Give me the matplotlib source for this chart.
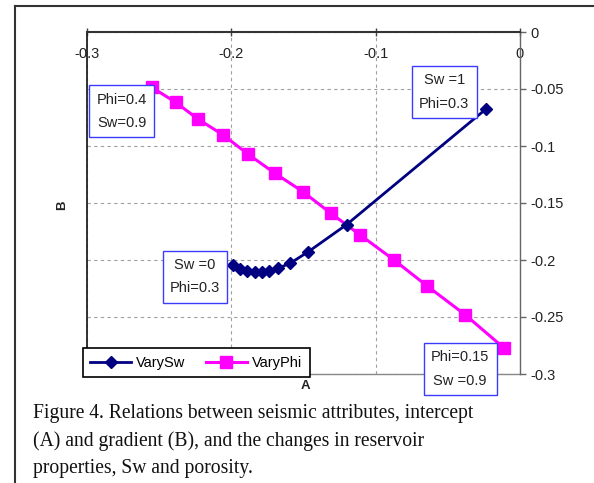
import matplotlib
matplotlib.use("Agg")
import matplotlib.pyplot as plt
from matplotlib.lines import Line2D

# ---- data ----
sw_A = [-0.1985, -0.1938, -0.1892, -0.1834, -0.1788, -0.1735, -0.1677, -0.1592, -0.1465, -0.1200, -0.0235]
sw_B = [-0.2044, -0.2079, -0.2096, -0.2105, -0.2105, -0.2096, -0.2073, -0.2029, -0.1927, -0.1689, -0.0675]

phi_A = [-0.2550, -0.2384, -0.2227, -0.2054, -0.1885, -0.1696, -0.1504, -0.1310, -0.1107, -0.0872, -0.0641, -0.0380, -0.0108]
phi_B = [-0.0485, -0.0617, -0.0766, -0.0904, -0.1070, -0.1240, -0.1400, -0.1590, -0.1780, -0.2000, -0.2230, -0.2480, -0.2775]

x_ticks = [-0.3, -0.2, -0.1, 0]
x_tick_labels = ["-0.3", "-0.2", "-0.1", "0"]
y_ticks = [0, -0.05, -0.1, -0.15, -0.2, -0.25, -0.3]
y_tick_labels = ["0", "-0.05", "-0.1", "-0.15", "-0.2", "-0.25", "-0.3"]

notes = ["Phi=0.4\nSw=0.9", "Sw =1\nPhi=0.3", "Sw =0\nPhi=0.3", "Phi=0.15\nSw =0.9"]
note_A = [-0.2758, -0.0524, -0.2250, -0.0415]
note_B = [-0.0697, -0.0526, -0.2146, -0.2956]

caption = ("Figure 4. Relations between seismic attributes, intercept\n"
           "(A) and gradient (B), and the changes in reservoir\n"
           "properties, Sw and porosity.")

plt.rcParams['font.family'] = ['Liberation Sans', 'DejaVu Sans']

fig = plt.figure(figsize=(5.94, 4.83), dpi=100)
ax = fig.add_axes([86.7/594, 1-374/483, (520-86.7)/594, 342/483])

ax.set_xlim(-0.3, 0)
ax.set_ylim(-0.3, 0)

ax.plot(phi_A, phi_B, color='#ff00ff', lw=2.2, marker='s', ms=8.5,
        markeredgecolor='#ff00ff', label='VaryPhi', zorder=3)
ax.plot(sw_A, sw_B, color='#000080', lw=2.0, marker='D', ms=6.5,
        markeredgecolor='#000080', label='VarySw', zorder=4)

# axes crossing like Excel: x-axis at B=0 (top), y-axis at A=0 (right)
ax.spines['bottom'].set_position(('data', 0))
ax.spines['bottom'].set_color('#333333')
ax.spines['bottom'].set_linewidth(1.5)
ax.spines['top'].set_visible(False)
ax.spines['left'].set_color('#222222')
ax.spines['left'].set_linewidth(1.3)
ax.spines['right'].set_color('#666666')
ax.spines['right'].set_linewidth(1.0)
ax.axhline(-0.3, color='#888888', lw=1.0, clip_on=False, zorder=1)

ax.xaxis.set_ticks_position('bottom')
ax.yaxis.tick_right()
ax.set_xticks(x_ticks)
ax.set_xticklabels(x_tick_labels)
ax.set_yticks(y_ticks)
ax.set_yticklabels(y_tick_labels)
ax.tick_params(axis='x', direction='inout', length=6, width=1, color='#444444',
               pad=8, labelsize=10.5, labelcolor='#222222')
ax.tick_params(axis='y', direction='out', length=4, width=1, color='#666666',
               pad=3.5, labelsize=10.5, labelcolor='#222222')

ax.grid(True, linestyle=(0, (3, 3)), color='#a0a0a0', lw=0.8)
ax.set_axisbelow(True)

for t, xa, yb in zip(notes, note_A, note_B):
    ax.text(xa, yb, t, ha='center', va='center', fontsize=10.5, color='#222222',
            linespacing=1.85, zorder=6, clip_on=False,
            bbox=dict(boxstyle='square,pad=0.5', facecolor='white',
                      edgecolor='#3c3cff', lw=1.0))

handles, labels = ax.get_legend_handles_labels()
leg = ax.legend(handles[::-1], labels[::-1], loc='lower left',
                bbox_to_anchor=(-0.0085, -0.0088), borderaxespad=0, ncol=2,
                fontsize=10.5, handlelength=2.8, handletextpad=0.35,
                columnspacing=1.4, fancybox=False, framealpha=1,
                borderpad=0.5, edgecolor='black')
leg.get_frame().set_linewidth(1.2)
leg.set_zorder(7)

fig.text(62/594, 1-205/483, 'B', rotation=90, ha='center', va='center',
         fontsize=9.5, fontweight='bold', color='#222222')
fig.text(305/594, 1-386/483, 'A', ha='center', va='center',
         fontsize=9.5, fontweight='bold', color='#222222')

fig.text(33/594, 1-404/483, caption, ha='left', va='top',
         family=['Liberation Serif', 'DejaVu Serif'], fontsize=14.1,
         linespacing=1.55, color='#111111')

# outer frame lines
fig.add_artist(Line2D([15/594, 15/594], [0, 1-6/483], color='#333333', lw=1.5))
fig.add_artist(Line2D([15/594, 1], [1-6/483, 1-6/483], color='#333333', lw=1.5))

fig.savefig('out.png', dpi=100)
